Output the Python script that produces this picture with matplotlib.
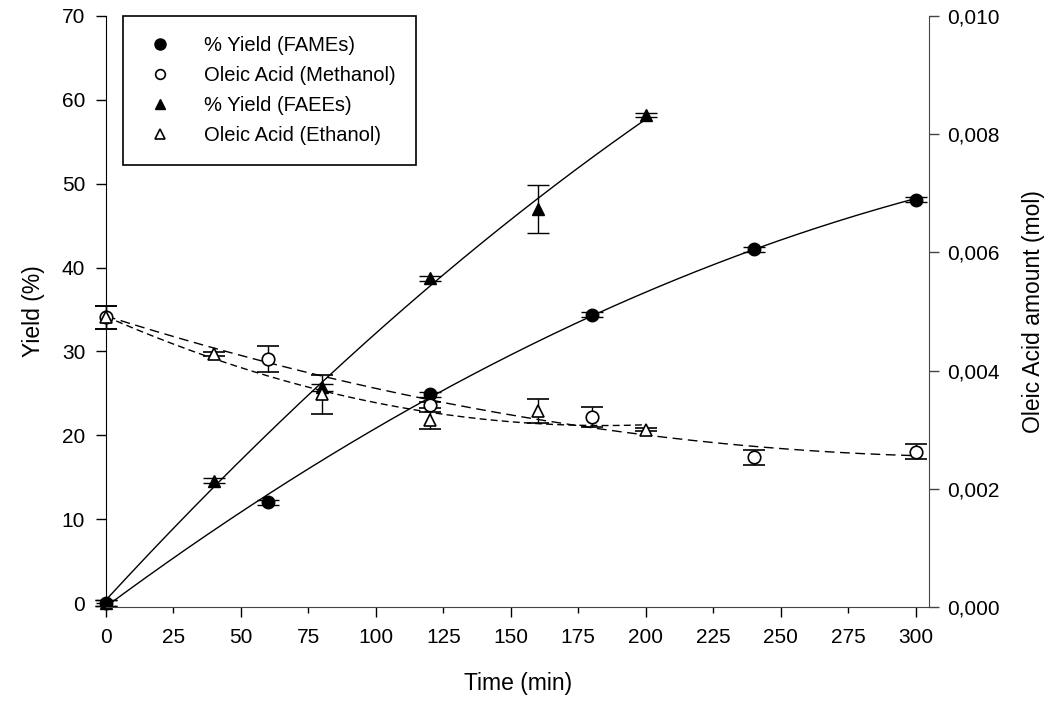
"""Yield and oleic acid consumption vs time, with regression curves."""

import matplotlib

matplotlib.use("Agg")
import matplotlib.pyplot as plt
import numpy as np
from matplotlib.lines import Line2D
from matplotlib.ticker import FuncFormatter

plt.rcParams["font.family"] = ["Liberation Sans", "DejaVu Sans"]

# Yield (%) - left axis
t_fame = [0, 60, 120, 180, 240, 300]
yield_fame = [0.0, 12.0, 24.9, 34.4, 42.2, 48.1]
err_fame = [0.3, 0.3, 0.3, 0.3, 0.3, 0.3]

t_faee = [0, 40, 80, 120, 160, 200]
yield_faee = [0.0, 14.6, 25.7, 38.7, 47.0, 58.2]
err_faee = [0.3, 0.3, 0.4, 0.3, 2.9, 0.2]

# Oleic acid amount (mol) - right axis
t_meoh = [0, 60, 120, 180, 240, 300]
oleic_meoh = [0.00490, 0.00419, 0.00342, 0.00321, 0.00253, 0.00263]
err_meoh = [0.00020, 0.00022, 0.00005, 0.00017, 0.00013, 0.00013]

t_etoh = [0, 40, 80, 120, 160, 200]
oleic_etoh = [0.00490, 0.00428, 0.00360, 0.00316, 0.00332, 0.00300]
err_etoh = [0.00020, 0.00003, 0.00033, 0.00014, 0.00020, 0.00003]

legend_labels = ["% Yield (FAMEs)", "Oleic Acid (Methanol)", "% Yield (FAEEs)", "Oleic Acid (Ethanol)"]


def fit_curve(x, y, deg=2):
    # regression line drawn through the measured points (as in the original)
    coef = np.polyfit(x, y, deg)
    xs = np.linspace(min(x), max(x), 200)
    return xs, np.polyval(coef, xs)


fig = plt.figure(figsize=(10.63, 7.07), dpi=100)
ax = fig.add_axes([0.0997, 0.1414, 0.7745, 0.836])
ax2 = ax.twinx()

ebkw = dict(ecolor="black", elinewidth=1.0, capsize=8, capthick=1.0, linestyle="none", clip_on=False)

ax.errorbar(t_fame, yield_fame, yerr=err_fame, fmt="o", ms=9, mfc="black", mec="black", **ebkw)
ax.errorbar(t_faee, yield_faee, yerr=err_faee, fmt="^", ms=9, mfc="black", mec="black", **ebkw)
xs, ys = fit_curve(t_fame, yield_fame)
ax.plot(xs, ys, color="black", lw=1.0)
xs, ys = fit_curve(t_faee, yield_faee)
ax.plot(xs, ys, color="black", lw=1.0)

ax2.errorbar(t_meoh, oleic_meoh, yerr=err_meoh, fmt="o", ms=9, mfc="white", mec="black", mew=1.2, **ebkw)
ax2.errorbar(t_etoh, oleic_etoh, yerr=err_etoh, fmt="^", ms=9, mfc="white", mec="black", mew=1.2, **ebkw)
xs, ys = fit_curve(t_meoh, oleic_meoh)
ax2.plot(xs, ys, color="black", lw=1.0, linestyle=(0, (7, 4)))
xs, ys = fit_curve(t_etoh, oleic_etoh)
ax2.plot(xs, ys, color="black", lw=1.0, linestyle=(0, (5, 3)))

# axes limits / ticks
ax.set_xlim(0, 305.1)
ax.set_ylim(-0.48, 70)
ax2.set_ylim(0, 0.010)

ax.set_xticks(np.arange(0, 301, 50))
ax.set_xticks(np.arange(25, 300, 50), labels=[str(v) for v in range(25, 300, 50)], minor=True)
ax.set_yticks(np.arange(0, 71, 10))
ax2.set_yticks(np.arange(0, 0.0101, 0.002))
ax2.yaxis.set_major_formatter(FuncFormatter(lambda v, p: f"{v:.3f}".replace(".", ",")))

for a in (ax, ax2):
    a.spines["top"].set_visible(False)
ax.spines["right"].set_visible(False)
ax.spines["left"].set_color("black")
ax.spines["bottom"].set_color("#444444")
ax2.spines["left"].set_visible(False)
ax2.spines["bottom"].set_visible(False)
ax2.spines["right"].set_color("#444444")

ax.tick_params(axis="both", which="major", direction="out", length=7, width=1.0, labelsize=15, pad=8)
ax.tick_params(axis="x", which="minor", direction="out", length=4, width=1.0, labelsize=15, pad=11)
ax2.tick_params(axis="y", direction="out", length=7, width=1.0, labelsize=15, pad=6, color="#444444")

ax.set_xlabel("Time (min)", fontsize=16.5, labelpad=18)
ax.set_ylabel("Yield (%)", fontsize=16.5, labelpad=12)
ax2.set_ylabel("Oleic Acid amount (mol)", fontsize=16.5, labelpad=16)

handles = [
    Line2D([], [], marker="o", ls="none", ms=8, mfc="black", mec="black"),
    Line2D([], [], marker="o", ls="none", ms=7, mfc="white", mec="black", mew=1.2),
    Line2D([], [], marker="^", ls="none", ms=7, mfc="black", mec="black"),
    Line2D([], [], marker="^", ls="none", ms=7, mfc="white", mec="black", mew=1.2),
]
leg = ax2.legend(handles, legend_labels, loc="upper left", bbox_to_anchor=(0.021, 1.0), borderaxespad=0,
                 fancybox=False, edgecolor="black", framealpha=1, fontsize=14.5,
                 handlelength=1.6, handletextpad=1.4, labelspacing=0.55, borderpad=1.0)
leg.get_frame().set_linewidth(1.2)

fig.savefig("out.png", dpi=100)
